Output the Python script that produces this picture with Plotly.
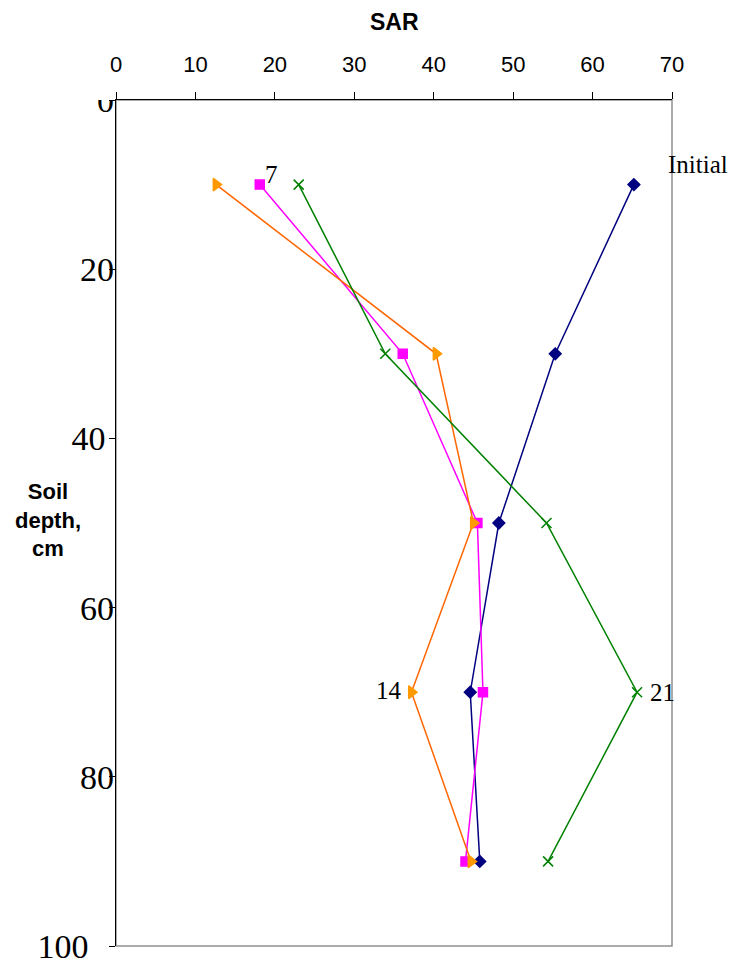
import plotly.graph_objects as go

depth = [10, 30, 50, 70, 90]
sar_initial = [65.2, 55.3, 48.2, 44.6, 45.8]
sar_day7 = [18.1, 36.1, 45.5, 46.2, 44.0]
sar_day14 = [12.6, 40.3, 45.0, 37.2, 44.7]
sar_day21 = [23.0, 33.9, 54.2, 65.6, 54.4]

x_ticks = [0, 10, 20, 30, 40, 50, 60, 70]
y_ticks = [0, 20, 40, 60, 80, 100]
y_tick_text = ["0", "20", "40\u00a0", "60", "80", "100\u00a0\u00a0\u00a0"]

fig = go.Figure()

series = [
    ("Initial", sar_initial, "#000080", "#000080", "diamond", 9),
    ("7", sar_day7, "#FF00FF", "#FF00FF", "square", 9),
    ("14", sar_day14, "#FF6600", "#FF9900", "triangle-right", 11),
    ("21", sar_day21, "#008000", "#008000", "x-thin", 10),
]
for name, vals, lc, mc, sym, sz in series:
    fig.add_trace(go.Scatter(
        x=vals, y=depth, mode="lines+markers", name=name,
        line=dict(color=lc, width=1.5),
        marker=dict(symbol=sym, size=sz, color=mc,
                    line=dict(color=mc, width=1.5)),
        showlegend=False, cliponaxis=False,
    ))

serif = "Liberation Serif, Times New Roman, serif"
sans = "Liberation Sans, Arial, sans-serif"
ann = [
    dict(text="7", x=sar_day7[0], y=depth[0], xanchor="left", yanchor="middle", xshift=3, yshift=10),
    dict(text="Initial", x=sar_initial[0], y=depth[0], xanchor="left", yanchor="middle", xshift=32, yshift=20),
    dict(text="14", x=sar_day14[3], y=depth[3], xanchor="right", yanchor="middle", xshift=-7, yshift=2),
    dict(text="21", x=sar_day21[3], y=depth[3], xanchor="left", yanchor="middle", xshift=11, yshift=0),
]
for a in ann:
    fig.add_annotation(showarrow=False, font=dict(family=serif, size=25, color="black"), **a)

fig.add_annotation(text="<b>Soil<br>depth,<br>cm</b>", xref="paper", yref="paper",
                   x=-0.122, y=0.5035, xanchor="center", yanchor="middle", showarrow=False,
                   font=dict(family=sans, size=22, color="black"))
fig.add_annotation(text="<b>SAR</b>", xref="paper", yref="paper",
                   x=0.5, y=1.092, xanchor="center", yanchor="middle", showarrow=False,
                   font=dict(family=sans, size=23, color="black"))

# grey frame (right/bottom)
fig.add_shape(type="rect", xref="paper", yref="paper", x0=0, y0=0, x1=1, y1=1,
              line=dict(color="#909090", width=1.5), layer="below")
# cover parts of the clipped "0" label
fig.add_shape(type="rect", xref="paper", yref="paper", x0=-0.045, x1=-0.0027, y0=1.0, y1=1.03,
              line=dict(width=0), fillcolor="white", layer="above")
fig.add_shape(type="rect", xref="paper", yref="paper", x0=0.0027, x1=0.04, y0=0.975, y1=0.9988,
              line=dict(width=0), fillcolor="white", layer="above")

fig.update_xaxes(
    side="top", range=[0, 70], tickvals=x_ticks, ticks="outside", ticklen=7,
    tickcolor="black", showline=True, linecolor="black", linewidth=1.2,
    showgrid=False, zeroline=False, automargin=False, ticklabelstandoff=11,
    tickfont=dict(family=sans, size=22, color="black"),
)
fig.update_yaxes(
    range=[100, 0], tickvals=y_ticks, ticktext=y_tick_text, ticks="outside", ticklen=6,
    tickcolor="black", showline=True, linecolor="black", linewidth=1.2,
    showgrid=False, zeroline=False, ticklabelstandoff=-12, automargin=False,
    ticklabeloverflow="allow",
    tickfont=dict(family=serif, size=34, color="black"),
)
fig.update_layout(
    width=733, height=964, margin=dict(l=116, r=61, t=100, b=18),
    plot_bgcolor="white", paper_bgcolor="white",
)
fig.write_html("out.html")
